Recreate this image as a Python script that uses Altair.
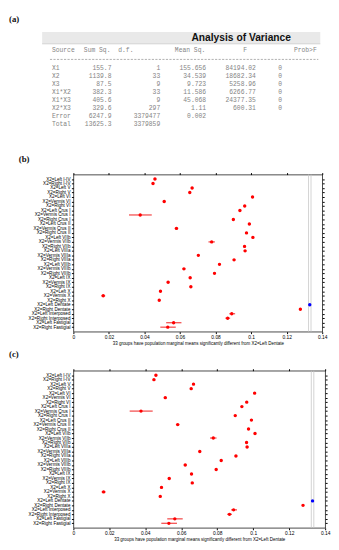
import altair as alt
import pandas as pd

# ---------------- panel (a): ANOVA table ----------------
table_title = "Analysis of Variance"
col_headers = ["Source", "Sum Sq.", "d.f.", "Mean Sq.", "F", "Prob>F"]
sources = ["X1", "X2", "X3", "X1*X2", "X1*X3", "X2*X3", "Error", "Total"]
sum_sq = ["155.7", "1139.8", "87.5", "382.3", "405.6", "329.6", "6247.9", "13625.3"]
dof = ["1", "33", "9", "33", "9", "297", "3379477", "3379859"]
mean_sq = ["155.656", "34.539", "9.723", "11.586", "45.068", "1.11", "0.002", ""]
f_stat = ["84194.02", "18682.34", "5258.96", "6266.77", "24377.35", "600.31", "", ""]
prob_f = ["0", "0", "0", "0", "0", "0", "", ""]

# ---------------- panels (b), (c): multiple comparison ----------------
groups = [
    "X2=Left I-IV", "X2=Right I-IV", "X2=Left V", "X2=Right V", "X2=Left VI",
    "X2=Vermis VI", "X2=Right VI", "X2=Left Crus I", "X2=Vermis Crus I",
    "X2=Right Crus I", "X2=Left Crus II", "X2=Vermis Crus II", "X2=Right Crus II",
    "X2=Left VIIb", "X2=Vermis VIIb", "X2=Right VIIb", "X2=Left VIIIa",
    "X2=Vermis VIIIa", "X2=Right VIIIa", "X2=Left VIIIb", "X2=Vermis VIIIb",
    "X2=Right VIIIb", "X2=Left IX", "X2=Vermis IX", "X2=Right IX", "X2=Left X",
    "X2=Vermis X", "X2=Right X", "X2=Left Dentate", "X2=Right Dentate",
    "X2=Left Interposed", "X2=Right Interposed", "X2=Left Fastigial",
    "X2=Right Fastigial",
]
means = [0.0459, 0.0448, 0.0668, 0.0655, 0.1008, 0.0511, 0.0964, 0.0937, 0.0376,
         0.0900, 0.0990, 0.0580, 0.0974, 0.1010, 0.0778, 0.0963, 0.0966, 0.0703,
         0.0904, 0.0822, 0.0622, 0.0794, 0.0657, 0.0533, 0.0661, 0.0490, 0.0168,
         0.0483, 0.1330, 0.1277, 0.0891, 0.0868, 0.0564, 0.0531]
ci_lo = [0.0452, 0.0441, 0.0661, 0.0648, 0.1001, 0.0503, 0.0957, 0.0930, 0.0313,
         0.0893, 0.0983, 0.0570, 0.0967, 0.1003, 0.0760, 0.0956, 0.0959, 0.0696,
         0.0897, 0.0815, 0.0614, 0.0787, 0.0650, 0.0525, 0.0654, 0.0483, 0.0157,
         0.0476, 0.1323, 0.1270, 0.0877, 0.0855, 0.0522, 0.0489]
ci_hi = [0.0466, 0.0455, 0.0675, 0.0662, 0.1015, 0.0519, 0.0971, 0.0944, 0.0441,
         0.0907, 0.0997, 0.0590, 0.0981, 0.1017, 0.0796, 0.0970, 0.0973, 0.0710,
         0.0911, 0.0829, 0.0630, 0.0801, 0.0664, 0.0541, 0.0668, 0.0497, 0.0179,
         0.0490, 0.1337, 0.1284, 0.0910, 0.0882, 0.0608, 0.0576]
ref_group = "X2=Left Dentate"
x_ticks = [0, 0.02, 0.04, 0.06, 0.08, 0.10, 0.12, 0.14]
x_title = "33 groups have population marginal means significantly different from X2=Left Dentate"

MONO = "Liberation Mono"
SANS = "Liberation Sans"
SERIF = "Liberation Serif"
GRAY = "#858585"
one = alt.Data(values=[{"k": 0}])

# ---------- table panel ----------
tdf = pd.DataFrame({"source": sources, "sum_sq": sum_sq, "dof": dof,
                    "mean_sq": mean_sq, "f": f_stat, "p": prob_f})
ty = alt.Y("source:N", scale=alt.Scale(type="point", domain=sources,
                                       range=[54, 111], padding=0), axis=None)

t_layers = [
    alt.Chart(one).mark_rect(color="#e9e9e9").encode(
        x=alt.value(-32), x2=alt.value(253), y=alt.value(17), y2=alt.value(29)),
    alt.Chart(one).mark_rule(color="#d2d2d2", strokeWidth=1).encode(
        x=alt.value(-32), x2=alt.value(253), y=alt.value(29)),
    alt.Chart(one).mark_text(text=table_title, font=SANS, fontWeight="bold",
                             fontSize=10.5, color="#111", align="center",
                             baseline="middle").encode(x=alt.value(172), y=alt.value(23.5)),
    alt.Chart(one).mark_text(text="(a)", font=SERIF, fontWeight="bold", fontSize=9,
                             align="left", baseline="top", color="#111").encode(
        x=alt.value(-66), y=alt.value(0)),
    alt.Chart(one).mark_rule(color="#9a9a9a", strokeWidth=0.8, strokeDash=[2.2, 1.4]).encode(
        x=alt.value(-24), x2=alt.value(251), y=alt.value(45)),
]
hdr_pos = [(-22, "left"), (38, "right"), (46, "left"), (104, "left"), (176, "center"), (226, "left")]
for h, (px, al) in zip(col_headers, hdr_pos):
    t_layers.append(alt.Chart(one).mark_text(text=h, font=MONO, fontSize=6.5, color=GRAY,
                                             align=al, baseline="middle").encode(
        x=alt.value(px), y=alt.value(35.5)))
col_pos = [("source", -22, "left"), ("sum_sq", 39, "right"), ("dof", 89, "right"),
           ("mean_sq", 136, "right"), ("f", 187, "right"), ("p", 212, "center")]
for fld, px, al in col_pos:
    t_layers.append(alt.Chart(tdf).mark_text(font=MONO, fontSize=6.5, color=GRAY,
                                             align=al, baseline="middle").encode(
        x=alt.value(px), y=ty, text=f"{fld}:N"))

table_panel = alt.layer(*t_layers).properties(
    width=255, height=123, view=alt.ViewBackground(stroke="transparent"))

# ---------- multcompare panels ----------
mc = pd.DataFrame({"group": groups, "mean": means, "lo": ci_lo, "hi": ci_hi})
mc["status"] = ["ref" if g == ref_group else "diff" for g in groups]


def mc_panel(width, tag, tag_x, tag_y):
    xs = alt.Scale(domain=[0, 0.14], nice=False, zero=False)
    ys = alt.Scale(type="point", domain=groups, padding=1.05)
    src = alt.Chart(mc)
    lines = src.transform_filter(alt.datum.status == "ref").transform_fold(
        ["lo", "hi"], as_=["bound", "xv"]).mark_rule(color="#c6c6c6", strokeWidth=0.8).encode(
        x=alt.X("xv:Q", scale=xs, axis=None))
    bars = src.mark_rule(color="#f45c5c", strokeWidth=1.4).encode(
        x=alt.X("lo:Q", scale=xs, axis=alt.Axis(
            orient="bottom", values=x_ticks, format="~g", labelFontSize=5, labelFont=SANS,
            labelColor="black", tickSize=2, tickColor="black", labelPadding=1,
            labelFlush=False, domain=False, grid=False, title=x_title, titleFontSize=4.6,
            titleFont=SANS, titleFontWeight="normal", titlePadding=1, titleColor="black")),
        x2="hi:Q",
        y=alt.Y("group:N", scale=ys, axis=alt.Axis(
            orient="left", title=None, labelFontSize=4.7, labelFont=SANS, labelColor="black",
            tickSize=2, tickColor="black", labelPadding=1.5, domain=False, grid=False,
            labelOverlap=False, labelLimit=200)))
    pts = src.mark_point(filled=True, size=12, opacity=1, shape="circle").encode(
        x=alt.X("mean:Q", scale=xs, axis=None),
        y=alt.Y("group:N", scale=ys, axis=None),
        color=alt.Color("status:N", scale=alt.Scale(domain=["diff", "ref"],
                                                    range=["#ff0000", "#0000ff"]), legend=None))
    frame = src.mark_point(opacity=0).encode(
        x=alt.X("mean:Q", scale=xs, axis=alt.Axis(
            orient="top", values=x_ticks, labels=False, tickSize=2, tickColor="black",
            domain=False, grid=False, title=None)),
        y=alt.Y("group:N", scale=ys, axis=alt.Axis(
            orient="right", labels=False, tickSize=2, tickColor="black",
            domain=False, grid=False, title=None)))
    tag_txt = alt.Chart(one).mark_text(text=tag, font=SERIF, fontWeight="bold", fontSize=9,
                                       align="left", baseline="middle", color="#111").encode(
        x=alt.value(tag_x), y=alt.value(tag_y))
    return alt.layer(lines, bars, pts, frame, tag_txt).properties(width=width, height=161)


panel_b = mc_panel(255, "(b)", -56, -16)
panel_c = mc_panel(258, "(c)", -66, -17)

chart = alt.vconcat(table_panel, panel_b, panel_c, spacing=40, bounds="flush").properties(
    padding=0
).configure_view(stroke="#1a1a1a", strokeWidth=0.8)

chart.save("out.html", embed_options={"renderer": "svg", "actions": False})
